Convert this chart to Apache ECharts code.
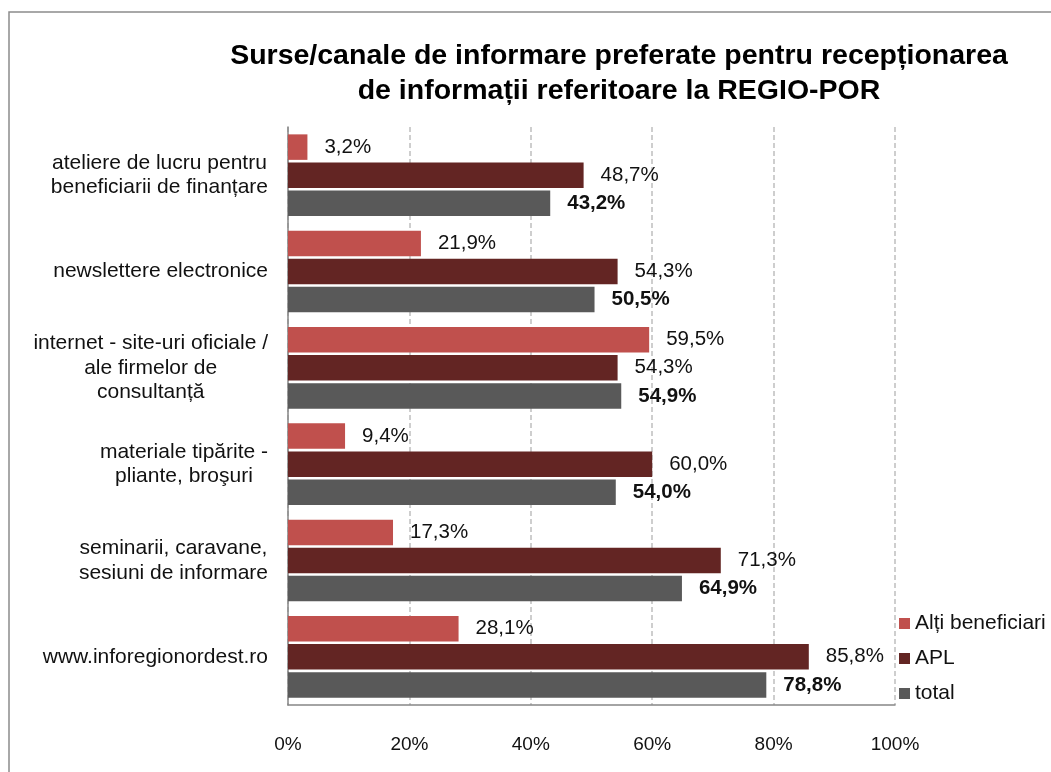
<!DOCTYPE html>
<html>
<head>
<meta charset="utf-8">
<script src="https://cdn.jsdelivr.net/npm/echarts@6/dist/echarts.min.js"></script>
<style>html,body{margin:0;padding:0;background:#fff;}#c{width:1051px;height:772px;}</style>
</head>
<body>
<div id="c"></div>
<script>
const categories = [
  "ateliere de lucru pentru\nbeneficiarii de finanțare",
  "newslettere electronice",
  "internet - site-uri oficiale /\nale firmelor de\nconsultanță",
  "materiale tipărite -\npliante, broşuri",
  "seminarii, caravane,\nsesiuni de informare",
  "www.inforegionordest.ro"
];
const altiBeneficiari = [3.2, 21.9, 59.5, 9.4, 17.3, 28.1];
const apl = [48.7, 54.3, 54.3, 60.0, 71.3, 85.8];
const total = [43.2, 50.5, 54.9, 54.0, 64.9, 78.8];
const xTicks = [0, 20, 40, 60, 80, 100];
const seriesNames = ["Alți beneficiari", "APL", "total"];

const FONT = "'Liberation Sans', Arial, sans-serif";
const fmt = p => p.value.toFixed(1).replace('.', ',') + '%';

const chart = echarts.init(document.getElementById('c'));
function mk(name, data, color, bold) {
  return {
    name: name, type: 'bar', data: data, barWidth: 25.5, barGap: '10%',
    itemStyle: { color: color },
    label: { show: true, position: 'right', distance: 17, formatter: fmt,
      fontFamily: FONT, fontSize: 20.5, color: '#111', fontWeight: bold ? 'bold' : 'normal' }
  };
}
chart.setOption({
  animation: false,
  backgroundColor: '#fff',
  graphic: [{ type: 'rect', shape: { x: 9, y: 12, width: 1100, height: 820 },
    style: { fill: 'none', stroke: '#8c8c8c', lineWidth: 1.5 }, silent: true }],
  title: {
    text: 'Surse/canale de informare preferate pentru recepționarea\nde informații referitoare la REGIO-POR',
    left: 614, top: 34, textAlign: 'center',
    textStyle: { fontFamily: FONT, fontSize: 28.5, fontWeight: 'bold', color: '#000', lineHeight: 35 }
  },
  legend: {
    orient: 'vertical', left: 894, top: 608, itemWidth: 11, itemHeight: 11, itemGap: 14,
    icon: 'rect', data: seriesNames,
    textStyle: { fontFamily: FONT, fontSize: 21, lineHeight: 21, color: '#111' }
  },
  grid: { left: 288, right: 156, top: 127, bottom: 67, containLabel: false },
  xAxis: {
    type: 'value', min: xTicks[0], max: xTicks[xTicks.length - 1], interval: 20,
    axisLine: { show: true, lineStyle: { color: '#868686', width: 1.5 } },
    axisTick: { show: false },
    splitLine: { show: true, lineStyle: { color: '#bfbfbf', width: 1.5, type: [5, 3] } },
    axisLabel: { formatter: v => v + '%', fontFamily: FONT, fontSize: 19, color: '#111', margin: 30 }
  },
  yAxis: {
    type: 'category', inverse: true, data: categories,
    axisLine: { show: true, lineStyle: { color: '#868686', width: 1.5 } },
    axisTick: { show: false },
    axisLabel: {
      margin: 20, color: '#111',
      formatter: v => v.split('\n').map(s => '{c|' + s + '}').join('\n'),
      rich: { c: { align: 'center', fontFamily: FONT, fontSize: 21, lineHeight: 24.5, color: '#111' } }
    }
  },
  series: [
    mk(seriesNames[0], altiBeneficiari, '#c0504d', false),
    mk(seriesNames[1], apl, '#632523', false),
    mk(seriesNames[2], total, '#595959', true)
  ]
});
</script>
</body>
</html>
